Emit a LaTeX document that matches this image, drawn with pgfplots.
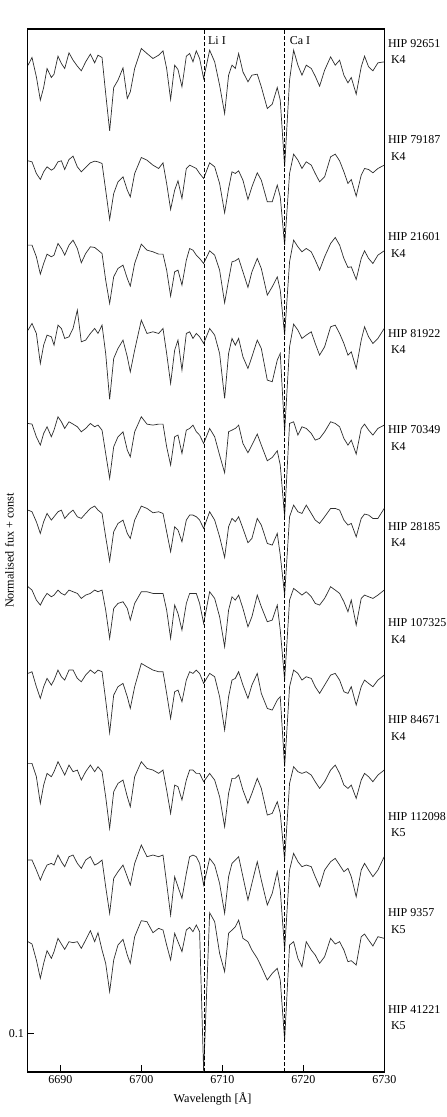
\documentclass[border=0pt]{standalone}
\usepackage{fontspec}
\setmainfont{Liberation Serif}
\usepackage{pgfplots}
\usepackage{pgfplotstable}
\pgfplotsset{compat=1.18}
\definecolor{specline}{RGB}{45,45,45}

% wavelength (A) and flux of the 11 spectra, in units of 1/1150 of normalised flux (offsets included)
\pgfplotstableread{
lam s1 s2 s3 s4 s5 s6 s7 s8 s9 s10 s11
6686.00 3021 2734 2481 2226 1946 1686 1456 1196 926 636 391
6686.49 3044 2731 2481 2246 1944 1681 1446 1201 926 636 384
6687.03 2986 2696 2446 2216 1906 1651 1416 1156 886 606 336
6687.52 2916 2678 2394 2126 1881 1616 1401 1121 806 576 281
6687.93 2954 2701 2426 2181 1916 1651 1421 1156 861 601 326
6688.35 3011 2716 2454 2211 1936 1676 1436 1181 896 621 364
6688.88 2984 2706 2446 2206 1906 1656 1426 1161 886 626 341
6689.21 2994 2711 2451 2181 1926 1666 1431 1176 901 621 361
6689.70 3048 2731 2486 2241 1966 1681 1446 1206 931 651 401
6690.12 3026 2734 2471 2231 1951 1686 1436 1186 911 631 384
6690.53 3011 2708 2451 2201 1931 1661 1431 1176 891 616 368
6691.06 3058 2738 2481 2206 1951 1676 1446 1206 921 646 391
6691.56 3036 2748 2496 2231 1944 1686 1441 1206 901 651 388
6692.09 3018 2716 2471 2286 1936 1666 1436 1181 906 626 391
6692.58 3004 2701 2428 2191 1921 1661 1421 1171 876 611 371
6693.12 3031 2714 2456 2196 1931 1676 1431 1191 901 636 396
6693.70 3054 2728 2476 2216 1946 1691 1436 1206 921 646 424
6694.23 3028 2733 2474 2231 1936 1698 1446 1196 901 621 391
6694.64 3051 2731 2466 2216 1941 1686 1441 1206 916 626 418
6695.14 3044 2726 2456 2241 1926 1676 1446 1201 901 636 366
6695.59 2936 2646 2376 2156 1856 1606 1386 1116 826 556 326
6696.08 2824 2558 2306 2018 1781 1533 1301 1018 731 476 241
6696.58 2954 2636 2386 2141 1876 1621 1391 1131 841 581 336
6697.11 2976 2671 2411 2171 1906 1646 1406 1156 866 601 381
6697.73 3013 2686 2421 2196 1921 1656 1411 1166 876 621 398
6698.26 2921 2646 2381 2146 1866 1616 1391 1126 826 586 351
6698.63 2941 2626 2358 2101 1846 1601 1356 1091 796 561 326
6699.17 3011 2696 2426 2166 1921 1656 1406 1156 886 626 406
6699.99 3071 2744 2484 2256 1966 1698 1441 1226 931 681 454
6700.69 3056 2736 2466 2216 1944 1691 1441 1216 911 646 451
6701.43 3041 2721 2461 2221 1941 1678 1436 1206 906 651 418
6702.13 3051 2711 2454 2216 1944 1681 1436 1201 896 646 431
6702.67 3064 2728 2454 2231 1944 1676 1436 1201 906 651 426
6703.12 3011 2666 2406 2156 1876 1621 1386 1136 846 566 381
6703.61 2918 2588 2328 2066 1821 1561 1301 1061 776 471 336
6704.11 3021 2646 2401 2166 1906 1636 1401 1141 861 586 416
6704.52 3008 2674 2406 2196 1911 1626 1376 1146 856 556 391
6705.01 2956 2621 2361 2106 1856 1591 1326 1111 816 521 361
6705.55 3048 2711 2436 2216 1926 1656 1406 1176 876 596 426
6705.96 3056 2721 2471 2221 1931 1671 1436 1201 906 646 434
6706.37 3031 2716 2466 2201 1941 1671 1436 1196 906 651 421
6706.78 3064 2711 2451 2216 1921 1666 1436 1206 896 646 441
6707.19 3041 2696 2441 2206 1911 1656 1406 1196 896 626 421
6707.69 2981 2681 2426 2186 1886 1631 1346 1166 871 561 0
6708.43 3066 2728 2464 2231 1931 1681 1441 1196 896 641 478
6709.05 3031 2716 2451 2211 1906 1656 1421 1186 876 621 451
6709.66 2961 2666 2406 2156 1851 1606 1366 1126 826 566 356
6710.28 2876 2578 2308 2021 1798 1544 1276 1026 736 476 301
6710.77 2991 2651 2376 2156 1921 1636 1386 1126 836 586 416
6711.19 3021 2701 2431 2201 1926 1661 1426 1176 881 626 426
6711.60 3011 2696 2434 2181 1931 1651 1416 1181 881 636 436
6712.01 3056 2704 2441 2201 1941 1666 1431 1201 891 646 456
6712.54 3001 2676 2401 2146 1886 1631 1391 1161 846 586 401
6713.16 2971 2618 2354 2111 1858 1588 1336 1121 806 516 391
6713.65 2991 2656 2401 2146 1881 1601 1366 1161 836 566 366
6714.31 2994 2698 2441 2196 1914 1661 1431 1196 881 631 341
6714.81 2956 2676 2411 2171 1881 1641 1396 1136 851 576 316
6715.55 2891 2611 2331 2076 1834 1586 1351 1091 771 501 276
6716.16 2904 2611 2356 2071 1844 1581 1356 1086 776 536 296
6716.78 2954 2661 2386 2136 1864 1616 1401 1116 811 601 311
6717.15 2916 2626 2346 2156 1821 1551 1326 1126 776 546 276
6717.69 2716 2481 2211 1921 1666 1431 1176 916 636 366 96
6718.30 2976 2696 2431 2176 1946 1666 1416 1156 866 606 381
6718.80 3066 2754 2496 2244 1951 1701 1451 1206 916 656 391
6719.33 3021 2736 2476 2226 1911 1681 1441 1196 901 631 341
6719.83 2991 2711 2461 2201 1936 1676 1431 1176 896 616 316
6720.36 3021 2731 2471 2211 1931 1701 1441 1186 901 621 391
6720.98 3011 2721 2461 2221 1916 1676 1426 1181 891 616 366
6721.47 2988 2696 2436 2186 1896 1656 1406 1156 871 586 351
6722.01 2958 2671 2406 2151 1901 1646 1401 1136 851 556 326
6722.63 3006 2686 2446 2176 1921 1666 1421 1161 871 606 346
6723.37 3046 2746 2486 2236 1951 1691 1456 1191 906 631 401
6723.94 3021 2754 2504 2241 1946 1691 1446 1196 921 641 384
6724.48 3036 2734 2481 2216 1936 1686 1436 1176 896 621 391
6725.01 2991 2701 2441 2186 1901 1656 1411 1141 861 601 366
6725.51 2968 2666 2414 2151 1881 1641 1381 1136 851 611 331
6725.92 2984 2678 2416 2161 1896 1646 1416 1156 861 586 334
6726.53 2934 2628 2378 2111 1854 1606 1341 1101 821 526 321
6727.15 3016 2691 2441 2196 1931 1661 1421 1156 876 606 406
6727.56 3048 2711 2464 2236 1944 1674 1431 1176 896 626 414
6728.06 3016 2708 2441 2206 1926 1671 1426 1166 886 606 396
6728.59 3004 2698 2426 2186 1911 1661 1421 1156 871 586 378
6729.21 3028 2711 2451 2201 1931 1661 1431 1176 891 606 406
6729.99 3031 2721 2464 2231 1941 1691 1446 1191 906 646 401
}\spectra

\pgfplotsset{spec/.style={specline, line width=0.7pt, mark=none, y filter/.expression={y/1150.2}}}

\begin{document}
\begin{tikzpicture}
\useasboundingbox (0,0) rectangle (447pt,1117pt);
\begin{axis}[
    at={(27.3pt,45pt)}, anchor=south west,
    scale only axis, width=357pt, height=1043pt,
    xmin=6685.91, xmax=6730, ymin=0, ymax=2.7209,
    xtick={6690,6700,6710,6720,6730},
    ytick={0.1},
    tick pos=left, tick align=inside,
    major tick length=7pt,
    axis line style={line width=1.2pt},
    every tick/.style={black, line width=0.8pt},
    /pgf/number format/assume math mode=true,
    x tick label style={/pgf/number format/1000 sep={}},
    y tick label style={/pgf/number format/fixed, /pgf/number format/precision=1},
    tick label style={font=\fontsize{12}{14}\selectfont},
    label style={font=\fontsize{12.2}{14}\selectfont},
    xlabel={Wavelength [Å]},
    ylabel={Normalised fux + const},
    xlabel style={at={(axis description cs:0.519,0)}, anchor=center, yshift=-27pt},
    ylabel style={at={(axis description cs:-0.05,0.5)}, anchor=center},
    clip=false,
]
\addplot[spec] table[x=lam, y=s1] {\spectra};
\addplot[spec] table[x=lam, y=s2] {\spectra};
\addplot[spec] table[x=lam, y=s3] {\spectra};
\addplot[spec] table[x=lam, y=s4] {\spectra};
\addplot[spec] table[x=lam, y=s5] {\spectra};
\addplot[spec] table[x=lam, y=s6] {\spectra};
\addplot[spec] table[x=lam, y=s7] {\spectra};
\addplot[spec] table[x=lam, y=s8] {\spectra};
\addplot[spec] table[x=lam, y=s9] {\spectra};
\addplot[spec] table[x=lam, y=s10] {\spectra};
\addplot[spec] table[x=lam, y=s11] {\spectra};

% Li I and Ca I markers
\draw[dash pattern=on 3.5pt off 2.5pt, line width=0.7pt] (axis cs:6707.75,0) -- (axis cs:6707.75,2.7209);
\draw[dash pattern=on 3.5pt off 2.5pt, line width=0.7pt] (axis cs:6717.68,0) -- (axis cs:6717.68,2.7209);
\node[anchor=west, inner sep=0pt, font=\fontsize{12}{14}\selectfont] at (axis cs:6708.22,2.690) {Li I};
\node[anchor=west, inner sep=0pt, font=\fontsize{12}{14}\selectfont] at (axis cs:6718.31,2.690) {Ca I};

% star names
\tikzset{star/.style={anchor=west, align=left, inner sep=0pt, font=\fontsize{12}{16.5}\selectfont}}
\node[star] at (axis cs:6730.44,2.662) {HIP 92651\\\hspace{3pt}K4};
\node[star] at (axis cs:6730.44,2.410) {HIP 79187\\\hspace{3pt}K4};
\node[star] at (axis cs:6730.44,2.158) {HIP 21601\\\hspace{3pt}K4};
\node[star] at (axis cs:6730.44,1.906) {HIP 81922\\\hspace{3pt}K4};
\node[star] at (axis cs:6730.44,1.654) {HIP 70349\\\hspace{3pt}K4};
\node[star] at (axis cs:6730.44,1.402) {HIP 28185\\\hspace{3pt}K4};
\node[star] at (axis cs:6730.44,1.150) {HIP 107325\\\hspace{3pt}K4};
\node[star] at (axis cs:6730.44,0.898) {HIP 84671\\\hspace{3pt}K4};
\node[star] at (axis cs:6730.44,0.646) {HIP 112098\\\hspace{3pt}K5};
\node[star] at (axis cs:6730.44,0.394) {HIP 9357\\\hspace{3pt}K5};
\node[star] at (axis cs:6730.44,0.142) {HIP 41221\\\hspace{3pt}K5};
\end{axis}
\end{tikzpicture}
\end{document}
